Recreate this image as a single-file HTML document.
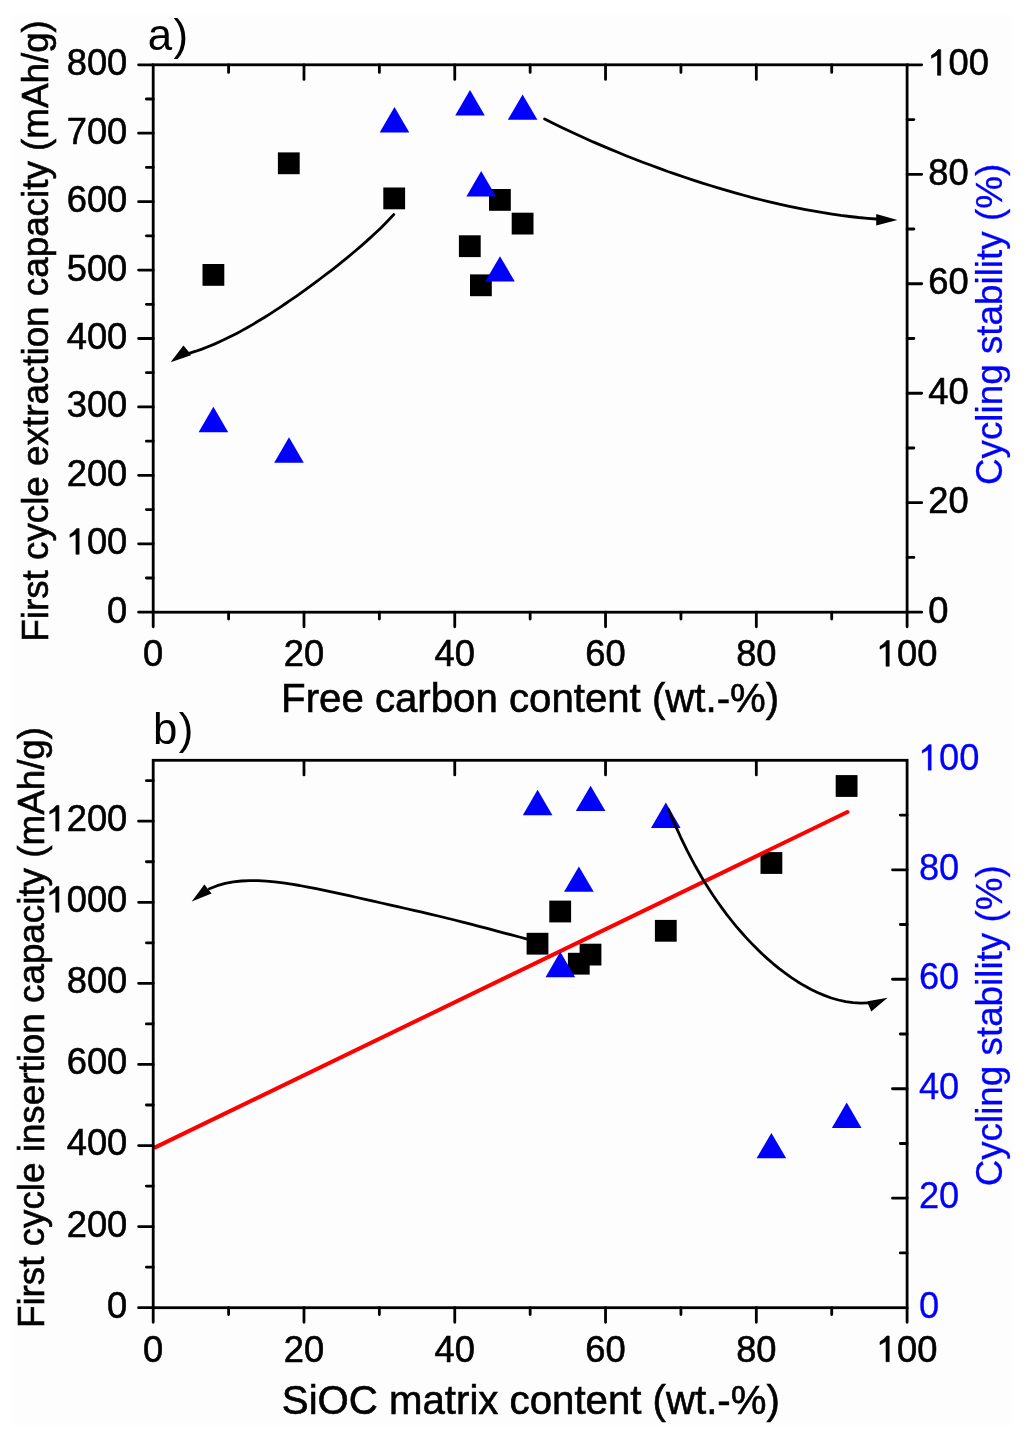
<!DOCTYPE html><html><head><meta charset="utf-8"><style>html,body{margin:0;padding:0;background:#fff;overflow:hidden;}svg{display:block;will-change:transform}text{font-family:"Liberation Sans",sans-serif;}</style></head><body>
<svg width="1024" height="1430" viewBox="0 0 1024 1430">
<rect width="1024" height="1430" fill="#fff"/>
<rect x="12" y="15" width="1001.4" height="1409.8" fill="#fdfdfd"/>
<g fill="#000"><rect x="202.50" y="264.00" width="21.8" height="21.8"/><rect x="277.90" y="152.40" width="21.8" height="21.8"/><rect x="383.30" y="187.50" width="21.8" height="21.8"/><rect x="458.90" y="235.30" width="21.8" height="21.8"/><rect x="470.00" y="274.40" width="21.8" height="21.8"/><rect x="489.00" y="189.00" width="21.8" height="21.8"/><rect x="511.70" y="212.70" width="21.8" height="21.8"/></g>
<g fill="#0000ff"><path d="M213.40,406.85L228.20,432.25H198.60Z"/><path d="M289.00,437.30L303.80,462.70H274.20Z"/><path d="M394.50,107.10L409.30,132.50H379.70Z"/><path d="M470.00,90.10L484.80,115.50H455.20Z"/><path d="M481.20,171.05L496.00,196.45H466.40Z"/><path d="M500.00,256.15L514.80,281.55H485.20Z"/><path d="M522.60,94.45L537.40,119.85H507.80Z"/></g>
<g fill="#000"><rect x="526.60" y="932.80" width="21.8" height="21.8"/><rect x="549.30" y="900.60" width="21.8" height="21.8"/><rect x="567.90" y="952.80" width="21.8" height="21.8"/><rect x="579.60" y="943.70" width="21.8" height="21.8"/><rect x="654.90" y="919.90" width="21.8" height="21.8"/><rect x="760.50" y="852.10" width="21.8" height="21.8"/><rect x="835.70" y="775.10" width="21.8" height="21.8"/></g>
<path d="M155.2,1147.39L847.4,812.0" stroke="#ff0000" stroke-width="4" stroke-linecap="round" fill="none"/>
<g fill="#0000ff"><path d="M537.60,789.85L552.40,815.25H522.80Z"/><path d="M560.30,951.75L575.10,977.15H545.50Z"/><path d="M578.90,866.45L593.70,891.85H564.10Z"/><path d="M590.60,785.65L605.40,811.05H575.80Z"/><path d="M665.80,802.60L680.60,828.00H651.00Z"/><path d="M771.40,1132.90L786.20,1158.30H756.60Z"/><path d="M846.70,1102.50L861.50,1127.90H831.90Z"/></g>
<g font-size="36.3" fill="#000" stroke="#000" stroke-width="0.6">
<rect x="153.2" y="64.8" width="753.9" height="547.4" fill="none" stroke="#000" stroke-width="2.8"/>
<path d="M153.20,612.2v14.6 M228.59,612.2v6.8 M303.98,612.2v14.6 M379.37,612.2v6.8 M454.76,612.2v14.6 M530.15,612.2v6.8 M605.54,612.2v14.6 M680.93,612.2v6.8 M756.32,612.2v14.6 M831.71,612.2v6.8 M907.10,612.2v14.6 M228.59,64.8v7.6 M303.98,64.8v14.6 M379.37,64.8v7.6 M454.76,64.8v14.6 M530.15,64.8v7.6 M605.54,64.8v14.6 M680.93,64.8v7.6 M756.32,64.8v14.6 M831.71,64.8v7.6 M153.2,612.20h-14.6 M153.2,577.99h-6.8 M153.2,543.78h-14.6 M153.2,509.56h-6.8 M153.2,475.35h-14.6 M153.2,441.14h-6.8 M153.2,406.93h-14.6 M153.2,372.71h-6.8 M153.2,338.50h-14.6 M153.2,304.29h-6.8 M153.2,270.07h-14.6 M153.2,235.86h-6.8 M153.2,201.65h-14.6 M153.2,167.44h-6.8 M153.2,133.22h-14.6 M153.2,99.01h-6.8 M153.2,64.80h-14.6 M907.1,612.20h14.6 M907.1,557.46h6.8 M907.1,502.72h14.6 M907.1,447.98h6.8 M907.1,393.24h14.6 M907.1,338.50h6.8 M907.1,283.76h14.6 M907.1,229.02h6.8 M907.1,174.28h14.6 M907.1,119.54h6.8 M907.1,64.80h14.6" fill="none" stroke="#000" stroke-width="2.8" stroke-linecap="round"/>
<text x="107.11" y="622.70" fill="#000" stroke="#000" stroke-width="0.6">0</text>
<text x="66.74" y="554.28" fill="#000" stroke="#000" stroke-width="0.6"> 00</text><path d="M75.95,554.28L75.95,533.89L69.93,537.26L69.93,534.42Q74.18,532.03 76.66,528.57L79.14,528.57L79.14,554.28Z" fill="#000" stroke="#000" stroke-width="0.6"/>
<text x="66.74" y="485.85" fill="#000" stroke="#000" stroke-width="0.6">200</text>
<text x="66.74" y="417.43" fill="#000" stroke="#000" stroke-width="0.6">300</text>
<text x="66.74" y="349.00" fill="#000" stroke="#000" stroke-width="0.6">400</text>
<text x="66.74" y="280.57" fill="#000" stroke="#000" stroke-width="0.6">500</text>
<text x="66.74" y="212.15" fill="#000" stroke="#000" stroke-width="0.6">600</text>
<text x="66.74" y="143.72" fill="#000" stroke="#000" stroke-width="0.6">700</text>
<text x="66.74" y="75.30" fill="#000" stroke="#000" stroke-width="0.6">800</text>
<text x="928.30" y="622.70" fill="#000" stroke="#000" stroke-width="0.6">0</text>
<text x="928.30" y="513.22" fill="#000" stroke="#000" stroke-width="0.6">20</text>
<text x="928.30" y="403.74" fill="#000" stroke="#000" stroke-width="0.6">40</text>
<text x="928.30" y="294.26" fill="#000" stroke="#000" stroke-width="0.6">60</text>
<text x="928.30" y="184.78" fill="#000" stroke="#000" stroke-width="0.6">80</text>
<text x="928.30" y="75.30" fill="#000" stroke="#000" stroke-width="0.6"> 00</text><path d="M937.52,75.30L937.52,54.92L931.49,58.28L931.49,55.45Q935.74,53.06 938.23,49.60L940.71,49.60L940.71,75.30Z" fill="#000" stroke="#000" stroke-width="0.6"/>
<text x="143.11" y="666.20" fill="#000" stroke="#000" stroke-width="0.6">0</text>
<text x="283.79" y="666.20" fill="#000" stroke="#000" stroke-width="0.6">20</text>
<text x="434.57" y="666.20" fill="#000" stroke="#000" stroke-width="0.6">40</text>
<text x="585.35" y="666.20" fill="#000" stroke="#000" stroke-width="0.6">60</text>
<text x="736.13" y="666.20" fill="#000" stroke="#000" stroke-width="0.6">80</text>
<text x="876.82" y="666.20" fill="#000" stroke="#000" stroke-width="0.6"> 00</text><path d="M886.03,666.20L886.03,645.82L880.01,649.18L880.01,646.35Q884.26,643.96 886.74,640.50L889.22,640.50L889.22,666.20Z" fill="#000" stroke="#000" stroke-width="0.6"/>
<rect x="153.2" y="760.3" width="753.9" height="547.4" fill="none" stroke="#000" stroke-width="2.8"/>
<path d="M153.20,1307.7v14.6 M228.59,1307.7v6.8 M303.98,1307.7v14.6 M379.37,1307.7v6.8 M454.76,1307.7v14.6 M530.15,1307.7v6.8 M605.54,1307.7v14.6 M680.93,1307.7v6.8 M756.32,1307.7v14.6 M831.71,1307.7v6.8 M907.10,1307.7v14.6 M303.98,760.3v14.6 M454.76,760.3v14.6 M605.54,760.3v14.6 M756.32,760.3v14.6 M153.2,1307.70h-14.6 M153.2,1267.16h-6.8 M153.2,1226.62h-14.6 M153.2,1186.07h-6.8 M153.2,1145.53h-14.6 M153.2,1104.99h-6.8 M153.2,1064.45h-14.6 M153.2,1023.91h-6.8 M153.2,983.36h-14.6 M153.2,942.82h-6.8 M153.2,902.28h-14.6 M153.2,861.74h-6.8 M153.2,821.20h-14.6 M153.2,780.65h-6.8 M907.1,1252.96h-6.8 M907.1,1198.22h-14.6 M907.1,1143.48h-6.8 M907.1,1088.74h-14.6 M907.1,1034.00h-6.8 M907.1,979.26h-14.6 M907.1,924.52h-6.8 M907.1,869.78h-14.6 M907.1,815.04h-6.8" fill="none" stroke="#000" stroke-width="2.8" stroke-linecap="round"/>
<text x="107.11" y="1317.60" fill="#000" stroke="#000" stroke-width="0.6">0</text>
<text x="66.74" y="1236.52" fill="#000" stroke="#000" stroke-width="0.6">200</text>
<text x="66.74" y="1155.43" fill="#000" stroke="#000" stroke-width="0.6">400</text>
<text x="66.74" y="1074.35" fill="#000" stroke="#000" stroke-width="0.6">600</text>
<text x="66.74" y="993.26" fill="#000" stroke="#000" stroke-width="0.6">800</text>
<text x="46.55" y="912.18" fill="#000" stroke="#000" stroke-width="0.6"> 000</text><path d="M55.76,912.18L55.76,891.80L49.74,895.16L49.74,892.33Q53.99,889.94 56.47,886.48L58.95,886.48L58.95,912.18Z" fill="#000" stroke="#000" stroke-width="0.6"/>
<text x="46.55" y="831.10" fill="#000" stroke="#000" stroke-width="0.6"> 200</text><path d="M55.76,831.10L55.76,810.71L49.74,814.08L49.74,811.24Q53.99,808.85 56.47,805.40L58.95,805.40L58.95,831.10Z" fill="#000" stroke="#000" stroke-width="0.6"/>
<text x="918.90" y="1317.70" fill="#0000ff" stroke="#0000ff" stroke-width="0.3">0</text>
<text x="918.90" y="1208.22" fill="#0000ff" stroke="#0000ff" stroke-width="0.3">20</text>
<text x="918.90" y="1098.74" fill="#0000ff" stroke="#0000ff" stroke-width="0.3">40</text>
<text x="918.90" y="989.26" fill="#0000ff" stroke="#0000ff" stroke-width="0.3">60</text>
<text x="918.90" y="879.78" fill="#0000ff" stroke="#0000ff" stroke-width="0.3">80</text>
<text x="918.90" y="770.30" fill="#0000ff" stroke="#0000ff" stroke-width="0.3"> 00</text><path d="M928.12,770.30L928.12,749.92L922.09,753.28L922.09,750.45Q926.34,748.06 928.83,744.60L931.31,744.60L931.31,770.30Z" fill="#0000ff" stroke="#0000ff" stroke-width="0.3"/>
<text x="143.11" y="1361.70" fill="#000" stroke="#000" stroke-width="0.6">0</text>
<text x="283.79" y="1361.70" fill="#000" stroke="#000" stroke-width="0.6">20</text>
<text x="434.57" y="1361.70" fill="#000" stroke="#000" stroke-width="0.6">40</text>
<text x="585.35" y="1361.70" fill="#000" stroke="#000" stroke-width="0.6">60</text>
<text x="736.13" y="1361.70" fill="#000" stroke="#000" stroke-width="0.6">80</text>
<text x="876.82" y="1361.70" fill="#000" stroke="#000" stroke-width="0.6"> 00</text><path d="M886.03,1361.70L886.03,1341.32L880.01,1344.68L880.01,1341.85Q884.26,1339.46 886.74,1336.00L889.22,1336.00L889.22,1361.70Z" fill="#000" stroke="#000" stroke-width="0.6"/>
</g>
<g fill="none" stroke="#000" stroke-width="2.8" stroke-linecap="round" stroke-linejoin="round">
<path d="M393.7,214.6 L389.3,219.3 L384.8,223.9 L380.3,228.4 L375.7,232.8 L371.0,237.1 L366.3,241.4 L361.5,245.6 L356.7,249.7 L351.9,253.8 L347.0,257.9 L342.0,261.9 L337.1,265.9 L332.1,269.8 L327.0,273.7 L321.9,277.5 L316.8,281.3 L311.7,285.1 L306.6,288.9 L301.4,292.6 L296.2,296.3 L290.9,299.9 L285.7,303.5 L280.4,307.1 L275.0,310.6 L269.7,314.1 L264.3,317.5 L258.8,320.8 L253.4,324.1 L247.9,327.3 L242.3,330.4 L236.7,333.4 L231.0,336.3 L225.3,339.1 L219.6,341.8 L213.8,344.4 L207.9,346.8 L201.9,349.1 L195.9,351.2 L189.8,353.1"/>
<path d="M544.6,118.9 L552.6,122.9 L560.7,126.9 L568.7,130.7 L576.8,134.5 L585.0,138.2 L593.1,141.9 L601.3,145.4 L609.5,148.9 L617.8,152.3 L626.0,155.7 L634.4,159.0 L642.7,162.2 L651.0,165.3 L659.4,168.4 L667.8,171.5 L676.3,174.4 L684.7,177.3 L693.2,180.1 L701.7,182.9 L710.2,185.5 L718.8,188.1 L727.4,190.7 L736.0,193.1 L744.6,195.5 L753.2,197.8 L761.9,200.0 L770.6,202.1 L779.3,204.2 L788.1,206.1 L796.8,207.9 L805.6,209.6 L814.4,211.2 L823.2,212.7 L832.0,214.1 L840.8,215.4 L849.7,216.5 L858.6,217.5 L867.5,218.3 L876.4,219.0"/>
<path d="M527.3,939.1 L519.4,937.0 L511.5,934.9 L503.4,932.8 L495.3,930.6 L487.2,928.4 L479.0,926.3 L470.8,924.2 L462.7,922.1 L454.5,920.0 L446.3,918.0 L438.2,916.0 L430.0,914.1 L421.9,912.2 L413.8,910.3 L405.7,908.5 L397.6,906.6 L389.5,904.8 L381.4,903.0 L373.3,901.2 L365.2,899.3 L357.1,897.5 L349.0,895.7 L340.8,893.9 L332.6,892.1 L324.4,890.4 L316.2,888.7 L307.9,887.1 L299.6,885.5 L291.3,884.1 L283.0,882.9 L274.6,881.9 L266.3,881.1 L258.0,880.7 L249.7,880.6 L241.4,881.0 L233.2,881.9 L225.2,883.4 L217.2,885.7 L209.4,888.8"/>
<path d="M668.6,809.8 L671.5,816.7 L674.5,823.6 L677.6,830.4 L680.7,837.3 L684.0,844.1 L687.3,850.9 L690.8,857.6 L694.3,864.2 L698.0,870.8 L701.7,877.3 L705.6,883.7 L709.6,890.0 L713.7,896.3 L718.0,902.5 L722.4,908.6 L726.8,914.6 L731.5,920.5 L736.2,926.3 L741.1,932.0 L746.1,937.6 L751.3,943.1 L756.6,948.5 L762.0,953.8 L767.6,958.9 L773.3,963.8 L779.2,968.6 L785.2,973.2 L791.4,977.6 L797.6,981.7 L804.1,985.6 L810.7,989.2 L817.4,992.5 L824.3,995.4 L831.3,998.0 L838.4,1000.0 L845.7,1001.6 L853.1,1002.6 L860.7,1003.1 L868.4,1002.8"/>
</g>
<g fill="#000">
<path d="M170.6,362.3L183.4,345.6L189.6,352.8L191,355.2Z"/>
<path d="M897.4,220.1L876.2,214.1L876.2,225.6Z"/>
<path d="M191.7,901.6L204.4,884.6L211.6,893.6Z"/>
<path d="M887.6,997.7L867.6,1001.3L868.2,1004.2L871.3,1011.6Z"/>
</g>
<g fill="#000" stroke="#000" stroke-width="0.6">
<text x="147.8" y="50.3" font-size="43.8" stroke="none">a<tspan dx="1.4">)</tspan></text>
<text x="152.9" y="743.7" font-size="43.8" stroke="none">b<tspan dx="1.4">)</tspan></text>
<text x="281.1" y="711.5" font-size="40.2">Free carbon content (wt.-%)</text>
<text x="281.85" y="1413.5" font-size="40.2">SiOC matrix content (wt.-%)</text>
<text transform="translate(47.9,330.95) rotate(-90)" text-anchor="middle" font-size="36.8">First cycle extraction capacity (mAh/g)</text>
<text transform="translate(44.1,1027.5) rotate(-90)" text-anchor="middle" font-size="36.8">First cycle insertion capacity (mAh/g)</text>
</g>
<g fill="#0000ff" stroke="#0000ff" stroke-width="0.3">
<text transform="translate(1002.4,324.45) rotate(-90)" text-anchor="middle" font-size="36.85">Cycling stability (%)</text>
<text transform="translate(1002.3,1025.85) rotate(-90)" text-anchor="middle" font-size="36.8">Cycling stability (%)</text>
</g>
</svg></body></html>
